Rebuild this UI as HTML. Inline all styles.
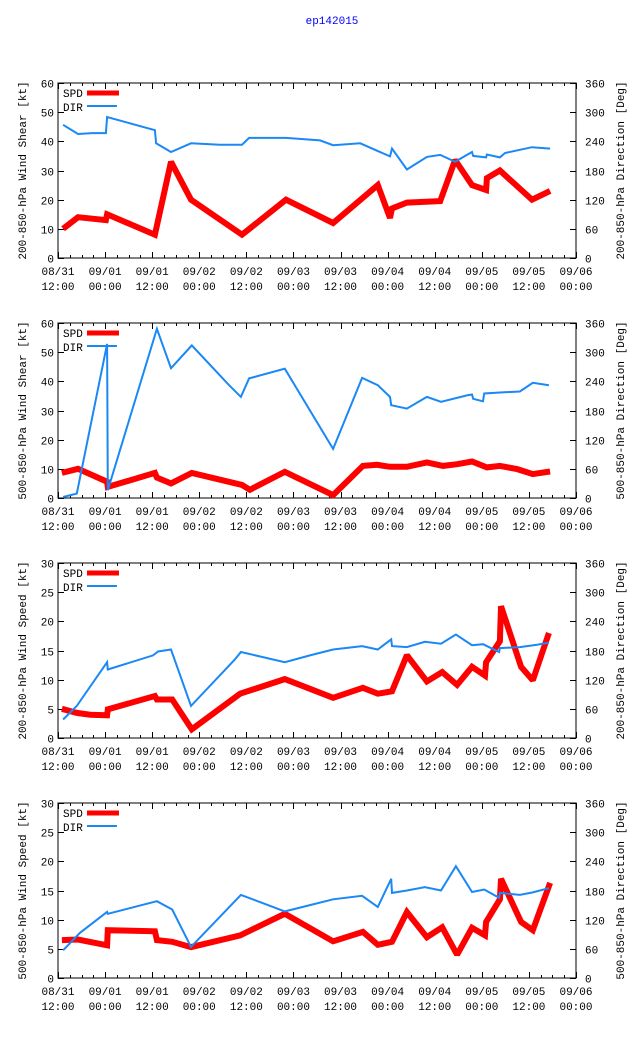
<!DOCTYPE html>
<html><head><meta charset="utf-8"><title>ep142015</title>
<style>
html,body{margin:0;padding:0;background:#fff;}
svg{display:block;font-family:"Liberation Mono","DejaVu Sans Mono",monospace;font-size:11px;}
</style></head>
<body>
<svg id="chart" width="640" height="1060" viewBox="0 0 640 1060" xmlns="http://www.w3.org/2000/svg">
<rect width="640" height="1060" fill="#fff"/>
<text x="332" y="24" fill="#0000ff" text-anchor="middle">ep142015</text>
</svg>
<script>
// Time in hours after 08/31 12:00
const xTickLabels1 = ["08/31","09/01","09/01","09/02","09/02","09/03","09/03","09/04","09/04","09/05","09/05","09/06"];
const xTickLabels2 = ["12:00","00:00","12:00","00:00","12:00","00:00","12:00","00:00","12:00","00:00","12:00","00:00"];

// Panel 1: 200-850 hPa wind shear
const p1SpdT = [1.3,5.1,12.2,12.5,24.7,28.8,33.9,46.9,58.1,70.1,81.5,84.6,85.1,88.9,97.4,101.2,105.5,109.1,109.3,112.6,120.8,125.4];
const p1Spd  = [10,14,13,15,8,33,20,8,20,12,25,13.7,17,19,19.5,33.6,25,23.3,27.4,30,20,23];
const p1DirT = [1.3,5.1,8.7,12.2,12.5,24.7,25.0,28.8,33.9,41.3,46.9,48.7,58.1,66.8,70.1,77.0,84.6,85.1,88.9,94.0,97.4,101.2,105.5,105.8,109.1,109.3,112.6,113.9,120.8,125.4];
const p1Dir  = [274,255,257,257,290,263,236,218,236,233,233,247,247,242,232,236,209,225,182,208,212,198,218,210,207,213,207,216,228,225];

// Panel 2: 500-850 hPa wind shear
const p2SpdT = [1.0,5.1,12.5,12.7,24.7,25.2,28.8,34.1,46.9,48.9,57.8,70.1,77.7,81.3,84.6,88.9,94.0,98.1,101.7,105.5,109.3,112.6,117.0,121.0,125.4];
const p2Spd  = [8.6,10,5.6,3.8,8.6,7,5,8.6,4.5,2.8,9,1,11,11.4,10.7,10.7,12.2,11,11.6,12.5,10.5,11,9.9,8.2,9.1];
const p2DirT = [1.3,4.8,12.5,12.7,25.2,28.8,34.1,43.6,46.6,48.7,57.8,70.1,77.5,81.5,84.6,84.9,88.9,94.0,97.6,104.2,105.5,105.8,108.3,108.6,112.6,117.7,121.0,125.1];
const p2Dir  = [2,9,317,16,348,267,314,232,208,246,266,101,247,232,208,191,184,208,198,211,213,204,199,215,217,219,237,232];

// Panel 3: 200-850 hPa wind speed
const p3SpdT = [1.0,4.8,8.2,12.5,12.7,24.7,25.2,29.1,34.1,46.4,57.8,70.1,77.7,81.5,85.1,88.9,94.0,97.9,101.7,105.5,108.8,109.1,112.6,112.9,118.0,121.0,125.1];
const p3Spd  = [5,4.3,4,3.9,4.9,7.2,6.6,6.6,1.5,7.6,10.1,6.9,8.6,7.6,8,14.2,9.7,11.3,9.1,12.2,10.7,13,16.6,22.6,12.2,9.9,18];
const p3DirT = [1.3,4.8,12.5,12.7,24.2,25.5,28.8,33.9,45.1,46.6,57.8,64.2,70.1,77.5,81.5,84.9,85.1,88.9,93.5,97.6,101.4,105.5,108.3,112.4,112.6,117.7,122.1,125.1];
const p3Dir  = [38,66,156,141,170,178,182,66,162,177,156,170,182,189,182,203,189,187,198,194,213,191,193,177,185,187,192,196];

// Panel 4: 500-850 hPa wind speed
const p4SpdT = [1.0,5.1,12.5,12.7,24.7,25.2,29.1,33.9,46.4,57.8,70.1,77.7,81.5,85.1,88.9,94.0,97.9,101.7,105.5,108.8,109.1,112.6,112.9,118.0,121.0,125.4];
const p4Spd  = [6.5,6.6,5.6,8.2,8,6.5,6.2,5.3,7.3,11,6.3,7.9,5.7,6.2,11.3,7,8.7,4,8.6,7.3,9.6,13.5,17,9.6,8.2,16.3];
const p4DirT = [1.3,5.6,12.5,12.7,25.2,29.1,33.9,46.6,57.8,64.2,70.1,77.5,81.5,84.9,85.1,88.9,93.5,97.6,101.4,105.5,108.6,112.4,112.6,117.7,121.0,125.1];
const p4Dir  = [57,93,136,132,158,141,64,171,137,150,162,169,146,204,175,180,187,180,230,177,182,165,175,171,176,185];

const panels = [
  {top:83, spdMax:60, spdTicks:[0,10,20,30,40,50,60], spdT:p1SpdT, spd:p1Spd, dirT:p1DirT, dir:p1Dir,
   left:"200-850-hPa Wind Shear [kt]", right:"200-850-hPa Direction [Deg]"},
  {top:323, spdMax:60, spdTicks:[0,10,20,30,40,50,60], spdT:p2SpdT, spd:p2Spd, dirT:p2DirT, dir:p2Dir,
   left:"500-850-hPa Wind Shear [kt]", right:"500-850-hPa Direction [Deg]"},
  {top:563, spdMax:30, spdTicks:[0,5,10,15,20,25,30], spdT:p3SpdT, spd:p3Spd, dirT:p3DirT, dir:p3Dir,
   left:"200-850-hPa Wind Speed [kt]", right:"200-850-hPa Direction [Deg]"},
  {top:803, spdMax:30, spdTicks:[0,5,10,15,20,25,30], spdT:p4SpdT, spd:p4Spd, dirT:p4DirT, dir:p4Dir,
   left:"500-850-hPa Wind Speed [kt]", right:"500-850-hPa Direction [Deg]"}
];
const dirTicks = [0,60,120,180,240,300,360];

const NS = "http://www.w3.org/2000/svg";
const svg = document.getElementById("chart");
const X0 = 58, X1 = 576, H = 175, TMAX = 132;
function xs(t){ return X0 + (X1 - X0) * t / TMAX; }
function mk(tag, attrs, parent){
  const e = document.createElementNS(NS, tag);
  for (const k in attrs) e.setAttribute(k, attrs[k]);
  (parent || svg).appendChild(e);
  return e;
}

panels.forEach((p, pi) => {
  const g = mk("g", {});
  
  
  const bot = p.top + H;
  const ys = v => bot - H * v / p.spdMax;
  const yd = v => bot - H * v / 360;

  const fr = mk("rect", {x:X0, y:p.top, width:X1 - X0, height:H, fill:"none", stroke:"#000", "stroke-width":1}, g);
  
  

  for (let t = 0; t <= TMAX; t += 3) {
    const x = Math.round(xs(t)) + 0.5;
    const len = (t % 12 === 0) ? 6 : 3;
    mk("line", {x1:x, y1:bot, x2:x, y2:bot - len, stroke:"#000"}, g);
    mk("line", {x1:x, y1:p.top, x2:x, y2:p.top + len, stroke:"#000"}, g);
  }
  xTickLabels1.forEach((lab, i) => {
    const x = xs(i * 12);
    const t1 = mk("text", {x:x, y:bot + 17, "text-anchor":"middle", fill:"#000"}, g);
    t1.textContent = lab;
    
    
    const t2 = mk("text", {x:x, y:bot + 32, "text-anchor":"middle", fill:"#000"}, g);
    t2.textContent = xTickLabels2[i];
    
    
  });

  p.spdTicks.forEach(v => {
    const y = Math.round(ys(v)) + 0.5;
    mk("line", {x1:X0, y1:y, x2:X0 + 6, y2:y, stroke:"#000"}, g);
    const t = mk("text", {x:X0 - 4, y:y + 4, "text-anchor":"end", fill:"#000"}, g);
    t.textContent = String(v);
    
    
  });
  dirTicks.forEach(v => {
    const y = Math.round(yd(v)) + 0.5;
    mk("line", {x1:X1, y1:y, x2:X1 - 6, y2:y, stroke:"#000"}, g);
    const t = mk("text", {x:X1 + 9, y:y + 4, "text-anchor":"start", fill:"#000"}, g);
    t.textContent = String(v);
    
    
  });

  const cy = p.top + H / 2;
  const lt = mk("text", {x:0, y:0, "text-anchor":"middle", fill:"#000", transform:"translate(26," + cy + ") rotate(-90)"}, g);
  lt.textContent = p.left;
  
  
  const rt = mk("text", {x:0, y:0, "text-anchor":"middle", fill:"#000", transform:"translate(624," + cy + ") rotate(-90)"}, g);
  rt.textContent = p.right;
  
  

  const dPts = p.dirT.map((t, i) => xs(t).toFixed(1) + "," + yd(p.dir[i]).toFixed(1)).join(" ");
  const sPts = p.spdT.map((t, i) => xs(t).toFixed(1) + "," + ys(p.spd[i]).toFixed(1)).join(" ");
  const sl = mk("polyline", {points:sPts, fill:"none", stroke:"#ff0000", "stroke-width":6, "stroke-linejoin":"miter", "stroke-miterlimit":2}, g);
  
  
  const dl = mk("polyline", {points:dPts, fill:"none", stroke:"#1a88f5", "stroke-width":2}, g);
  
  

  const l1 = mk("text", {x:63, y:p.top + 14, fill:"#000"}, g);
  l1.textContent = "SPD";
  
  
  const ls1 = mk("line", {x1:87, y1:p.top + 10, x2:119, y2:p.top + 10, stroke:"#ff0000", "stroke-width":5}, g);
  
  
  const l2 = mk("text", {x:63, y:p.top + 28, fill:"#000"}, g);
  l2.textContent = "DIR";
  
  
  const ls2 = mk("line", {x1:87, y1:p.top + 23, x2:117, y2:p.top + 23, stroke:"#1a88f5", "stroke-width":2}, g);
  
  
});
</script>
</body></html>
